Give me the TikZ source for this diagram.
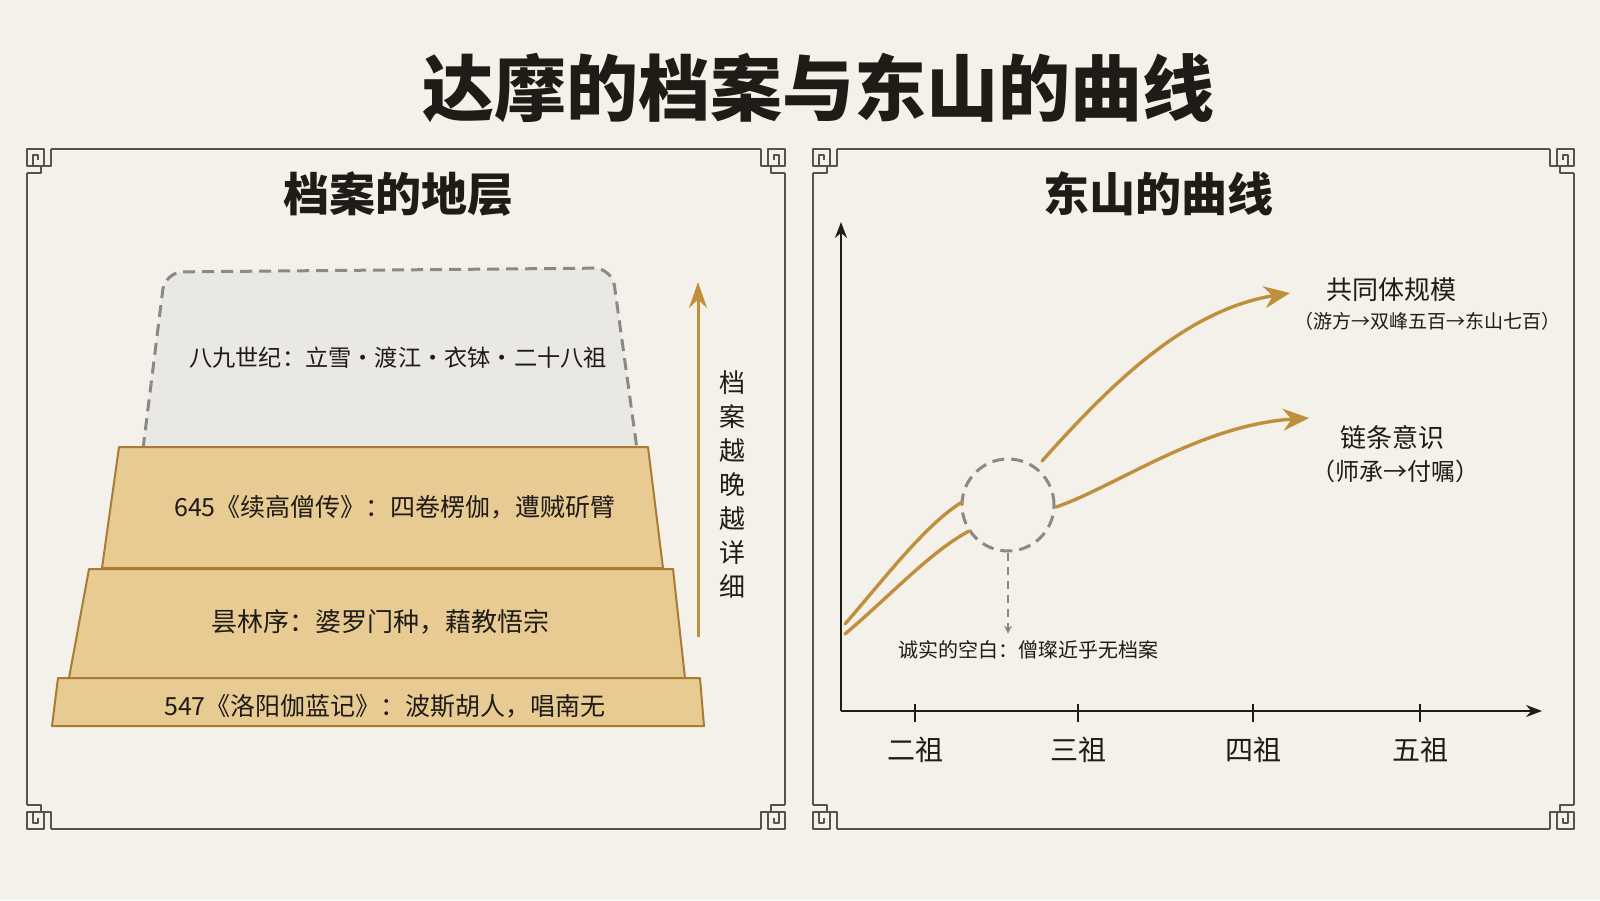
\documentclass[tikz,border=0pt]{standalone}
\usepackage{fontspec}
\newfontfamily\cjk{Noto Sans CJK SC}
\usetikzlibrary{arrows.meta}
\definecolor{paper}{HTML}{F4F1EA}
\definecolor{ink}{HTML}{1F1B17}
\definecolor{frameink}{HTML}{57524C}
\definecolor{ochre}{HTML}{C08F3E}
\definecolor{sand}{HTML}{E8CB93}
\definecolor{sandedge}{HTML}{A97B33}
\definecolor{mist}{HTML}{E9E8E4}
\definecolor{gapgray}{HTML}{8B8986}

\tikzset{
  fret/.pic={
    \draw (0,0) rectangle (17,17);
    \draw (6,17) -- (6,6) -- (11,6) -- (11,11);
    \draw (24,0) -- (24,17) -- (14,17) -- (14,24) -- (0,24);
  }
}

\begin{document}
\begin{tikzpicture}
            [x=0.5pt, y=-0.5pt, line join=round,
             every node/.style={text=ink, font=\cjk},
             layer/.style={fill=sand, draw=sandedge, line width=1pt},
             layertext/.style={font=\cjk\fontsize{12.5}{15}\selectfont},
             trend/.style={draw=ochre, line width=1.7pt, line cap=round},
             gapline/.style={draw=gapgray, line width=1.5pt, dash pattern=on 6pt off 3.5pt}]
            \fill[paper] (0,0) rectangle (1600,900);
            \useasboundingbox (0,0) rectangle (1600,900);
            \node (title) at (818,88) {\fontsize{36}{40}\selectfont\bfseries 达摩的档案与东山的曲线};

            % panel frames
            \foreach \xa/\xb in {27/785, 813/1574} {
              \begin{scope}[draw=frameink, line width=1pt]
                \pic at (\xa,149) {fret};
                \pic[xscale=-1] at (\xb,149) {fret};
                \pic[yscale=-1] at (\xa,829) {fret};
                \pic[scale=-1] at (\xb,829) {fret};
                \draw (\xa+24,149) -- (\xb-24,149);
                \draw (\xa+24,829) -- (\xb-24,829);
                \draw (\xa,173) -- (\xa,805);
                \draw (\xb,173) -- (\xb,805);
              \end{scope}
            }
            \node (lefthead) at (398,194) {\fontsize{23}{26}\selectfont\bfseries 档案的地层};
            \node (righthead) at (1158,194) {\fontsize{23}{26}\selectfont\bfseries 东山的曲线};

            % strata
            \draw[gapline, fill=mist, rounded corners=9pt] (143,449) -- (165,272) -- (612,268) -- (637,449);
            \draw[layer] (119,447) -- (648,447) -- (663,568) -- (102,568) -- cycle;
            \draw[layer] (89,569) -- (673,569) -- (685,678) -- (69,678) -- cycle;
            \draw[layer] (58,678) -- (700,678) -- (704,726) -- (52,726) -- cycle;
            \node[layertext, font=\cjk\fontsize{11.6}{14}\selectfont] (late) at (398,358) {八九世纪：立雪·渡江·衣钵·二十八祖};
            \node[layertext] (xugao) at (395,507) {645《续高僧传》：四卷楞伽，遭贼斫臂};
            \node[layertext, font=\cjk\fontsize{13}{15}\selectfont] (tanlin) at (380,622) {昙林序：婆罗门种，藉教悟宗};
            \node[layertext] (luoyang) at (385,706) {547《洛阳伽蓝记》：波斯胡人，唱南无};

            \coordinate (early) at (698,637);
            \coordinate (later) at (698,282);
            \draw[ochre, line width=1.5pt, -{Stealth[length=13pt,width=9pt]}] (early) -- (later);
            \node[align=center, font=\cjk\fontsize{13}{17}\selectfont] (detail) at (732,484)
              {档\\案\\越\\晚\\越\\详\\细};

            % curve chart
            \coordinate (o) at (841,711);
            \coordinate (ytop) at (841,222);
            \coordinate (xend) at (1542,711);
            \draw[ink, line width=1pt, -{Stealth[length=8pt,width=6pt]}] (o) -- (ytop);
            \draw[ink, line width=1pt, -{Stealth[length=8pt,width=6pt]}] (o) -- (xend);
            \foreach \x/\t in {915/二祖, 1078/三祖, 1253/四祖, 1420/五祖} {
              \draw[ink, line width=1pt] (\x,704) -- (\x,722);
              \node[font=\cjk\fontsize{14}{16}\selectfont] (tick\x) at (\x,750) {\t};
            }

            \node[circle, minimum size=46pt, gapline] (gap) at (1008,505) {};
            \node[font=\cjk\fontsize{10}{12}\selectfont] (gapnote) at (1028,650) {诚实的空白：僧璨近乎无档案};
            \draw[gapline, line width=1.2pt, dash pattern=on 4pt off 3pt, -{Stealth[length=4pt,width=4pt]}] (gap.south) -- (gap.south |- gapnote.north);

            \coordinate (up0) at (845,624);
            \coordinate (up1) at (962,502);
            \coordinate (up2) at (1042,461);
            \coordinate (up3) at (1290,293);
            \coordinate (lo0) at (845,634);
            \coordinate (lo1) at (969,531);
            \coordinate (lo2) at (1056,507);
            \coordinate (lo3) at (1309,418);
            \draw[trend] (up0) .. controls (885,578) and (925,525) .. (up1);
            \draw[trend] (lo0) .. controls (890,596) and (930,552) .. (lo1);
            \draw[trend, -{Stealth[length=13pt,width=11pt]}] (up2) .. controls (1110,385) and (1185,310) .. (up3);
            \draw[trend, -{Stealth[length=13pt,width=11pt]}] (lo2) .. controls (1115,487) and (1200,425) .. (lo3);

            \node[font=\cjk\fontsize{13}{15}\selectfont] (scale) at (1391,290) {共同体规模};
            \node[font=\cjk\fontsize{9.5}{11}\selectfont] (scalenote) at (1427,321) {（游方→双峰五百→东山七百）};
            \node[font=\cjk\fontsize{13}{15}\selectfont] (chain) at (1392,437) {链条意识};
            \node[font=\cjk\fontsize{12}{14}\selectfont] (chainnote) at (1395,471) {（师承→付嘱）};
        \end{tikzpicture}
\end{document}
